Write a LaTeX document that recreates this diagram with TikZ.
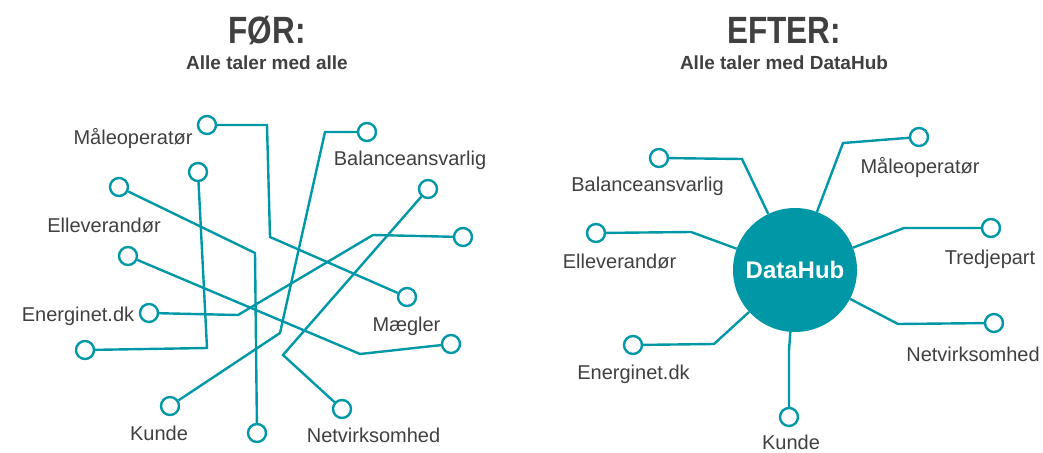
\documentclass[tikz,border=0pt]{standalone}
\usepackage{fontspec}
\setmainfont{Liberation Sans}
\newfontfamily\headfont[FakeStretch=0.83]{Liberation Sans}
\usetikzlibrary{positioning}
\definecolor{hubcolor}{HTML}{0097A7}
\definecolor{inkcolor}{HTML}{404040}

\begin{document}
\begin{tikzpicture}[
    x=1pt, y=-1pt,
    port/.style={circle, draw=hubcolor, fill=white, line width=2.4pt, minimum size=18pt, inner sep=0pt},
    wire/.style={draw=hubcolor, line width=2.4pt},
    party/.style={text=inkcolor, font=\fontsize{20}{24}\selectfont, inner sep=0pt, text height=14pt, text depth=4pt},
    heading/.style={text=inkcolor, font=\headfont\bfseries\fontsize{38}{40}\selectfont, inner sep=0pt, anchor=base},
    subheading/.style={text=inkcolor, font=\bfseries\fontsize{19}{22}\selectfont, inner sep=0pt, anchor=base},
    hub/.style={circle, fill=hubcolor, minimum size=124pt, inner sep=0pt, text=white, font=\bfseries\fontsize{24}{28}\selectfont}
]
\useasboundingbox (0,0) rectangle (1043,452);

% Headings
\node[heading] (before_title) at (267,43.3) {FØR:};
\node[subheading] (before_sub) at (267,70) {Alle taler med alle};
\node[heading] (after_title) at (784,43.3) {EFTER:};
\node[subheading] (after_sub) at (784,70) {Alle taler med DataHub};

% Before: everybody talks to everybody
\node[port] (old_a1) at (207,125) {};
\node[port] (old_a2) at (407,297) {};
\node[port] (old_b1) at (367,132) {};
\node[port] (old_b2) at (170,406) {};
\node[port] (old_c1) at (198,172) {};
\node[port] (old_c2) at (85,350) {};
\node[port] (old_d1) at (119,187) {};
\node[port] (old_d2) at (257,433) {};
\node[port] (old_e1) at (428,189) {};
\node[port] (old_e2) at (342,409) {};
\node[port] (old_f1) at (463,237) {};
\node[port] (old_f2) at (149,313) {};
\node[port] (old_g1) at (128,256) {};
\node[port] (old_g2) at (451,344) {};

\draw[wire] (old_a1) -- (267,125) -- (270,237) -- (old_a2);
\draw[wire] (old_b1) -- (325,132) -- (280,333) -- (old_b2);
\draw[wire] (old_c1) -- (207,348) -- (old_c2);
\draw[wire] (old_d1) -- (255,253) -- (old_d2);
\draw[wire] (old_e1) -- (283,355) -- (old_e2);
\draw[wire] (old_f1) -- (373,235) -- (238,315) -- (old_f2);
\draw[wire] (old_g1) -- (360,354) -- (old_g2);

\node[party] (old_maale) at (133,139.5) {Måleoperatør};
\node[party] (old_balance) at (410,160) {Balanceansvarlig};
\node[party] (old_elle) at (104,227) {Elleverandør};
\node[party] (old_energinet) at (78,316) {Energinet.dk};
\node[party] (old_maegler) at (406.5,326) {Mægler};
\node[party] (old_kunde) at (159,435) {Kunde};
\node[party] (old_net) at (373.5,437) {Netvirksomhed};

% After: everybody talks to DataHub
\node[hub] (hub) at (795,270) {DataHub};

\node[port] (new_balance) at (659,158) {};
\node[port] (new_maale) at (919,137) {};
\node[port] (new_elle) at (596,233) {};
\node[port] (new_tredje) at (991,228) {};
\node[port] (new_energinet) at (633,345) {};
\node[port] (new_net) at (994,323) {};
\node[port] (new_kunde) at (789,417) {};

\draw[wire] (new_balance) -- (742,159) -- (hub);
\draw[wire] (new_maale) -- (843,143) -- (hub);
\draw[wire] (new_elle) -- (691,232) -- (hub);
\draw[wire] (new_tredje) -- (904,228) -- (hub);
\draw[wire] (new_energinet) -- (714,344) -- (hub);
\draw[wire] (new_net) -- (898,324) -- (hub);
\draw[wire] (new_kunde) -- (789,350) -- (hub);

\node[party] (lbl_balance) at (647.5,186) {Balanceansvarlig};
\node[party] (lbl_maale) at (920,168) {Måleoperatør};
\node[party] (lbl_elle) at (619.5,263) {Elleverandør};
\node[party] (lbl_tredje) at (990,259.5) {Tredjepart};
\node[party] (lbl_energinet) at (633.5,374.5) {Energinet.dk};
\node[party] (lbl_net) at (973,356) {Netvirksomhed};
\node[party, text depth=0pt, anchor=base] (lbl_kunde) at (791,449.5) {Kunde};

\end{tikzpicture}
\end{document}
